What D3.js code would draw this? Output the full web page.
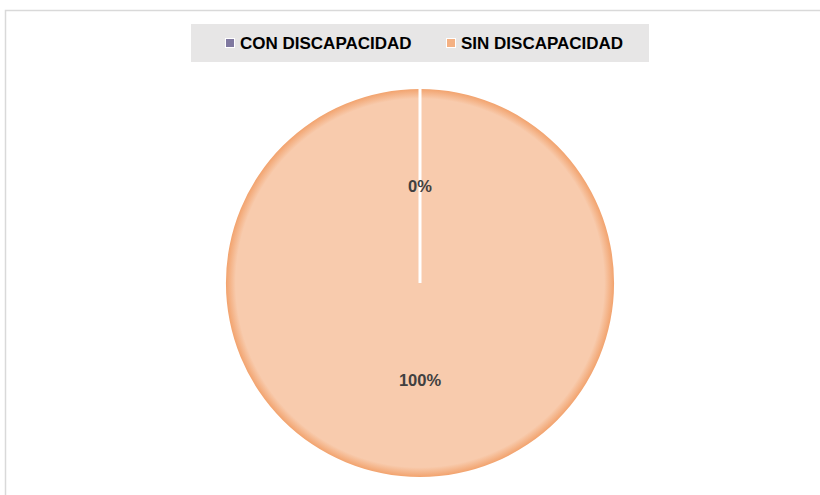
<!DOCTYPE html>
<html>
<head>
<meta charset="utf-8">
<script src="https://cdn.jsdelivr.net/npm/d3@7"></script>
<style>
  body { margin: 0; background: #fff; }
  svg { display: block; }
</style>
</head>
<body>
<script>
// chart data
var categories = ["CON DISCAPACIDAD", "SIN DISCAPACIDAD"];
var values = [0, 100];
var labels = ["0%", "100%"];
var colors = ["#8079A0", "#F4B183"];

var width = 820;
var height = 495;
var cx = 420, cy = 283, radius = 194;

var svg = d3.select("body").append("svg")
  .attr("width", width)
  .attr("height", height);

// outer chart frame (only top and left edges visible)
svg.append("rect")
  .attr("x", 5.5)
  .attr("y", 10.5)
  .attr("width", width + 10)
  .attr("height", height + 10)
  .attr("fill", "none")
  .attr("stroke", "#d9d9d9")
  .attr("stroke-width", 1.5);

// soft orange edge on the pie
var defs = svg.append("defs");
var grad = defs.append("radialGradient")
  .attr("id", "sinFill")
  .attr("gradientUnits", "userSpaceOnUse")
  .attr("cx", 0).attr("cy", 0).attr("r", radius);
grad.append("stop").attr("offset", "0.95").attr("stop-color", "#F8CBAD");
grad.append("stop").attr("offset", "1").attr("stop-color", "#F2A36E");

var pie = d3.pie().sort(null).value(function(d) { return d; });
var arcs = pie(values);
var arc = d3.arc().innerRadius(0).outerRadius(radius);

var g = svg.append("g").attr("transform", "translate(" + cx + "," + cy + ")");

// the 100% slice first, then the 0% slice (drawn as a white separator)
g.append("path")
  .attr("d", arc(arcs[1]))
  .attr("fill", "url(#sinFill)");

g.append("path")
  .attr("d", arc(arcs[0]))
  .attr("fill", colors[0])
  .attr("stroke", "#fff")
  .attr("stroke-width", 3);

// percent labels at the slice centroids
g.selectAll("text.lbl")
  .data(arcs)
  .enter()
  .append("text")
  .attr("class", "lbl")
  .attr("x", function(d) { return arc.centroid(d)[0]; })
  .attr("y", function(d) { return arc.centroid(d)[1]; })
  .attr("dy", "0.35em")
  .attr("text-anchor", "middle")
  .style("font-family", "'Liberation Sans', Arial, sans-serif")
  .style("font-weight", "bold")
  .style("font-size", "16.5px")
  .style("fill", "#404040")
  .text(function(d, i) { return labels[i]; });

// legend
var legend = svg.append("g");
legend.append("rect")
  .attr("x", 191)
  .attr("y", 24)
  .attr("width", 458)
  .attr("height", 38)
  .attr("fill", "#E7E6E6");

var legendX = [226, 447];
var item = legend.selectAll("g.item")
  .data(categories)
  .enter()
  .append("g")
  .attr("class", "item")
  .attr("transform", function(d, i) { return "translate(" + legendX[i] + ",0)"; });

item.append("rect")
  .attr("x", -1).attr("y", 38)
  .attr("width", 10).attr("height", 10)
  .attr("fill", "#fff");
item.append("rect")
  .attr("x", 0).attr("y", 39)
  .attr("width", 8).attr("height", 8)
  .attr("fill", function(d, i) { return colors[i]; });

item.append("text")
  .attr("x", 14)
  .attr("y", 49)
  .style("font-family", "'Liberation Sans', Arial, sans-serif")
  .style("font-weight", "bold")
  .style("font-size", "17px")
  .style("fill", "#000")
  .text(function(d) { return d; });
</script>
</body>
</html>
